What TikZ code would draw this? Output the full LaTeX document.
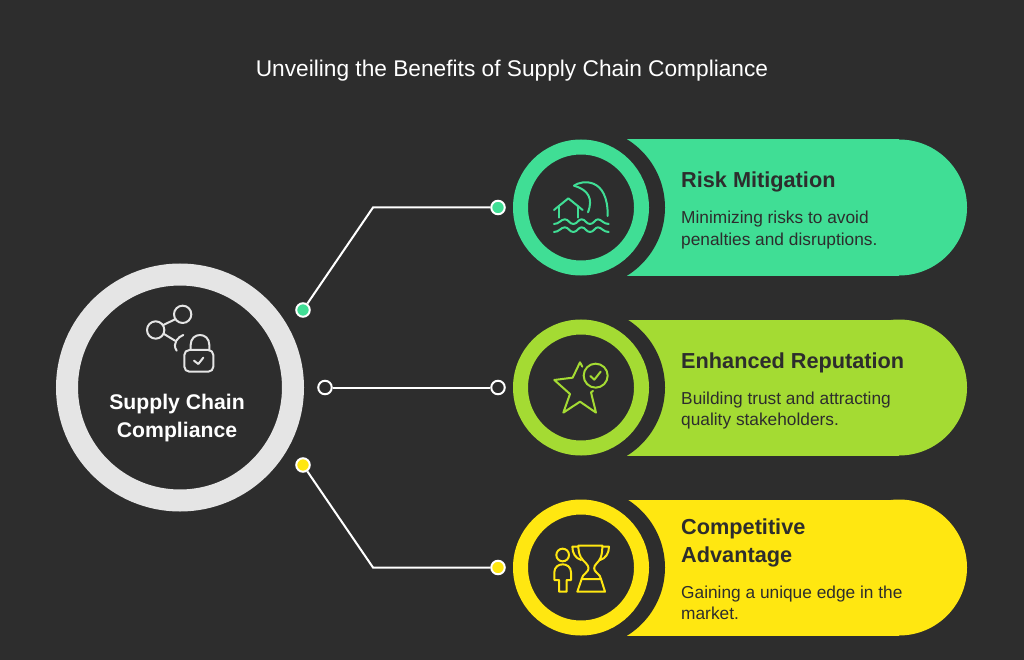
\documentclass[tikz,border=0pt]{standalone}
\usepackage{fontspec}
\setmainfont{Liberation Sans}
\definecolor{bg}{HTML}{2D2D2D}
\definecolor{cgreen}{HTML}{40DE95}
\definecolor{clime}{HTML}{A4DB33}
\definecolor{cyellow}{HTML}{FFE711}
\definecolor{cgrey}{HTML}{E5E5E5}
\tikzset{
  ring/.style={circle,draw=#1,line width=15pt,fill=bg,minimum size=121pt,inner sep=0pt},
  mainring/.style={circle,draw=cgrey,line width=22pt,fill=bg,minimum size=226pt,inner sep=0pt},
  dot/.style={circle,draw=white,line width=2pt,fill=#1,minimum size=13.5pt,inner sep=0pt},
  link/.style={draw=white,line width=2pt},
  icon/.style={draw=#1,line width=2pt,line cap=round,line join=round},
  head/.style={anchor=base west,inner sep=0pt,text=bg,font=\fontsize{21.7}{26}\selectfont\bfseries},
  body/.style={anchor=base west,inner sep=0pt,text=bg,font=\fontsize{17.3}{20}\selectfont},
  maintext/.style={anchor=base,inner sep=0pt,text=white,font=\fontsize{21.2}{26}\selectfont\bfseries}
}
\newcommand{\pillshape}[2]{%
  \fill[#1] (627,#2-68) rectangle (899,#2+68);
  \fill[#1] (899,#2) circle[radius=68];
  \fill[bg] (584.8,#2) circle[radius=80.2];
  \fill[bg] (560,#2-69) rectangle (627.3,#2+69);
}
\begin{document}
\begin{tikzpicture}[x=1pt,y=-1pt]
\useasboundingbox (0,0) rectangle (1024,660);
\fill[bg] (0,0) rectangle (1024,660);
\node[anchor=base,inner sep=0pt,text=white,font=\fontsize{22.7}{26}\selectfont] (title) at (512,77) {Unveiling the Benefits of Supply Chain Compliance};

\pillshape{cgreen}{207.5}
\pillshape{clime}{387.5}
\pillshape{cyellow}{567.5}

\node[mainring] (main) at (180,387.5) {};
\node[ring=cgreen] (r1) at (581,207.5) {};
\node[ring=clime] (r2) at (581,387.5) {};
\node[ring=cyellow] (r3) at (581,567.5) {};

\coordinate (k1) at (373,207.5);
\coordinate (k3) at (373,567.5);
\node[dot=cgreen] (a1) at (303,310) {};
\node[dot=bg] (a2) at (325,387.5) {};
\node[dot=cyellow] (a3) at (303,465) {};
\node[dot=cgreen] (b1) at (498,207.5) {};
\node[dot=bg] (b2) at (498,387.5) {};
\node[dot=cyellow] (b3) at (498,567.5) {};
\draw[link] (a1) -- (k1) -- (b1);
\draw[link] (a2) -- (b2);
\draw[link] (a3) -- (k3) -- (b3);

\node[maintext] (m1) at (177,409) {Supply Chain};
\node[maintext] (m2) at (177,437) {Compliance};

\node[head] (h1) at (681,188) {Risk Mitigation};
\node[body] (t1a) at (681,224) {Minimizing risks to avoid};
\node[body] (t1b) at (681,245) {penalties and disruptions.};
\node[head] (h2) at (681,368) {Enhanced Reputation};
\node[body] (t2a) at (681,404) {Building trust and attracting};
\node[body] (t2b) at (681,425) {quality stakeholders.};
\node[head] (h3a) at (681,534) {Competitive};
\node[head] (h3b) at (681,562) {Advantage};
\node[body] (t3a) at (681,598) {Gaining a unique edge in the};
\node[body] (t3b) at (681,619) {market.};

% lock-and-share icon
\begin{scope}[shift={(120,290)},x=0.3333pt,y=-0.3333pt,icon=cgrey]
\draw (188,73) circle[radius=26];
\draw (107,120) circle[radius=26];
\draw (130,105) -- (165,88);
\draw (132,132) -- (165,152);
\draw (190,135) .. controls (175,140) and (155,160) .. (170,182);
\draw[rounded corners=5pt] (193,180) rectangle (280,245);
\draw (212,180) -- (212,165) .. controls (212,125) and (268,125) .. (268,165) -- (268,180);
\draw (222,212) -- (235,222) -- (250,203);
\end{scope}

% flood icon
\begin{scope}[shift={(510,135)},x=0.3333pt,y=-0.3333pt,icon=cgreen]
\draw (132,225) -- (175,190) -- (218,225);
\draw (148,213) -- (148,248);
\draw (205,213) -- (205,248);
\draw (192,152) .. controls (215,135) and (295,125) .. (293,243);
\draw (192,152) .. controls (235,165) and (250,190) .. (234,232);
\foreach \w in {267,291}{
\draw (132,\w) .. controls (148,\w) and (152,\w-14) .. (165,\w-14) .. controls (176,\w-14) and (178,\w) .. (190,\w) .. controls (202,\w) and (204,\w-14) .. (215,\w-14) .. controls (226,\w-14) and (228,\w) .. (240,\w) .. controls (252,\w) and (254,\w-14) .. (264,\w-14) .. controls (274,\w-14) and (280,\w) .. (296,\w);
}
\end{scope}

% star icon
\begin{scope}[shift={(510,315)},x=0.3333pt,y=-0.3333pt,icon=clime]
\draw (217,155) -- (210,142) -- (188,188) -- (133,195) -- (180,237) -- (160,293) -- (210,260) -- (258,293) -- (243,232) -- (249,228);
\draw (257,182) circle[radius=36];
\draw (241,183) -- (253,194) -- (272,170);
\end{scope}

% trophy icon
\begin{scope}[shift={(545,535)},x=0.3333pt,y=-0.3333pt,icon=cyellow]
\draw (53,60) circle[radius=19];
\draw (42,170) -- (42,135) -- (28,135) -- (28,112) .. controls (28,80) and (78,80) .. (78,112) -- (78,135) -- (65,135) -- (65,170) -- cycle;
\draw (100,32) -- (172,32) .. controls (172,65) and (165,75) .. (155,85) .. controls (145,95) and (145,105) .. (155,113) .. controls (162,120) and (168,125) .. (168,132) -- (110,132) .. controls (110,125) and (116,120) .. (123,113) .. controls (133,105) and (133,95) .. (123,85) .. controls (113,75) and (100,65) .. (100,32) -- cycle;
\draw (110,132) -- (97,170) -- (180,170) -- (168,132);
\draw (100,35) -- (82,35) .. controls (82,55) and (92,70) .. (108,75);
\draw (172,35) -- (192,35) .. controls (192,55) and (182,70) .. (165,75);
\end{scope}
\end{tikzpicture}
\end{document}
